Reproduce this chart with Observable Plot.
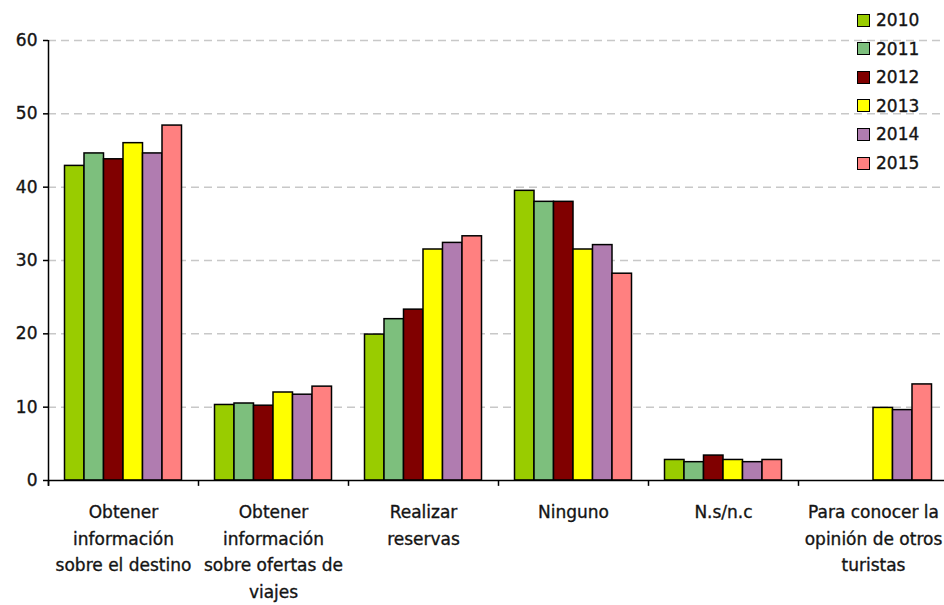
<!DOCTYPE html>
<html>
<head>
<meta charset="utf-8">
<script src="https://cdn.jsdelivr.net/npm/d3@7"></script>
<script src="https://cdn.jsdelivr.net/npm/@observablehq/plot@0.6"></script>
<style>
  body { margin: 0; background: #fff; }
  #chart { position: relative; width: 944px; height: 605px; overflow: hidden; font-family: "DejaVu Sans", Verdana, sans-serif; }
  #chart svg { overflow: visible; }
  .legend { position: absolute; left: 857px; top: 0; }
  .legend .row { position: absolute; left: 0; height: 28px; display: flex; align-items: center; white-space: nowrap; font-size: 17px; color: #141414; -webkit-text-stroke: 0.35px #141414; }
  .legend .sw { width: 11px; height: 11px; border: 1.5px solid #000; margin-right: 6px; -webkit-text-stroke: 0; }
</style>
</head>
<body>
<div id="chart"></div>
<script>
// Uses of the Internet when planning a trip, share of travellers (%), 2010–2015
const categories = ["destino", "ofertas", "reservas", "ninguno", "nsnc", "opinion"];
const categoryLabels = [
  "Obtener\ninformación\nsobre el destino",
  "Obtener\ninformación\nsobre ofertas de\nviajes",
  "Realizar\nreservas",
  "Ninguno",
  "N.s/n.c",
  "Para conocer la\nopinión de otros\nturistas"
];
const years = ["2010", "2011", "2012", "2013", "2014", "2015"];
const colors = ["#99cc00", "#7dbf7d", "#800000", "#ffff00", "#b07cb0", "#ff8080"];

const v2010 = [42.9, 10.3, 19.9, 39.5, 2.8, null];
const v2011 = [44.6, 10.5, 22.0, 38.0, 2.5, null];
const v2012 = [43.8, 10.2, 23.3, 38.0, 3.4, null];
const v2013 = [46.0, 12.0, 31.5, 31.5, 2.8, 9.9];
const v2014 = [44.6, 11.7, 32.4, 32.1, 2.5, 9.6];
const v2015 = [48.4, 12.8, 33.3, 28.2, 2.8, 13.1];
const series = [v2010, v2011, v2012, v2013, v2014, v2015];

const yTicks = [0, 10, 20, 30, 40, 50, 60];
const gridTicks = [10, 20, 30, 40, 50, 60];

// Layout of the band scale: six groups, each holding six adjacent bars
const xRange = [48, 948];
const step = (xRange[1] - xRange[0]) / categories.length;
const groupPad = 16.5;
const barW = (step - 2 * groupPad) / years.length;

const ink = "#141414";

const barMarks = series.map((values, i) =>
  Plot.barY(
    categories.map((c, j) => ({category: c, value: values[j]})).filter(d => d.value != null),
    {
      x: "category",
      y: "value",
      fill: colors[i],
      stroke: "#000",
      strokeWidth: 1.5,
      insetLeft: groupPad + i * barW,
      insetRight: step - groupPad - (i + 1) * barW
    }
  )
);

const chart = Plot.plot({
  width: 944,
  height: 605,
  marginTop: 40,
  marginBottom: 125,
  marginLeft: 48,
  marginRight: 0,
  style: {fontFamily: "'DejaVu Sans', Verdana, sans-serif", fontSize: "17px", color: ink, background: "#fff"},
  x: {type: "band", domain: categories, range: xRange, padding: 0, axis: null},
  y: {domain: [0, 60], axis: null},
  marks: [
    Plot.ruleY(gridTicks, {stroke: "#c8c8c8", strokeWidth: 1.5, strokeDasharray: "8,5"}),
    ...barMarks,
    // y axis tick marks, labels drawn below with a heavier weight
    Plot.axisY({ticks: yTicks, tickSize: 5, tickFormat: () => "", label: null, strokeWidth: 1.5, stroke: "#000"}),
    Plot.text(yTicks, {x: () => categories[0], y: d => d, text: d => String(d), dx: -step / 2 - 11, textAnchor: "end", fontSize: 17, fill: ink, stroke: ink, strokeWidth: 0.35}),
    // x baseline and group boundary ticks
    Plot.ruleY([0], {stroke: "#000", strokeWidth: 1.5}),
    Plot.ruleX(categories, {x: d => d, dx: -step / 2, y1: 0, y2: -0.8, stroke: "#000", strokeWidth: 1.5}),
    // y axis line
    Plot.ruleX([categories[0]], {x: d => d, dx: -step / 2, y1: -0.8, y2: 60, stroke: "#000", strokeWidth: 1.5}),
    Plot.text(categories, {
      x: d => d,
      y: 0,
      text: (d, i) => categoryLabels[i],
      lineAnchor: "top",
      lineHeight: 1.56,
      dy: 19,
      fontSize: 17,
      fill: ink,
      stroke: ink,
      strokeWidth: 0.35
    })
  ]
});

const root = document.getElementById("chart");
root.appendChild(chart);

// Legend in the upper right corner, over the plot area
const legend = document.createElement("div");
legend.className = "legend";
years.forEach((y, i) => {
  const row = document.createElement("div");
  row.className = "row";
  row.style.top = (6 + i * 28.6) + "px";
  const sw = document.createElement("span");
  sw.className = "sw";
  sw.style.background = colors[i];
  const label = document.createElement("span");
  label.textContent = y;
  row.appendChild(sw);
  row.appendChild(label);
  legend.appendChild(row);
});
root.appendChild(legend);
</script>
</body>
</html>
